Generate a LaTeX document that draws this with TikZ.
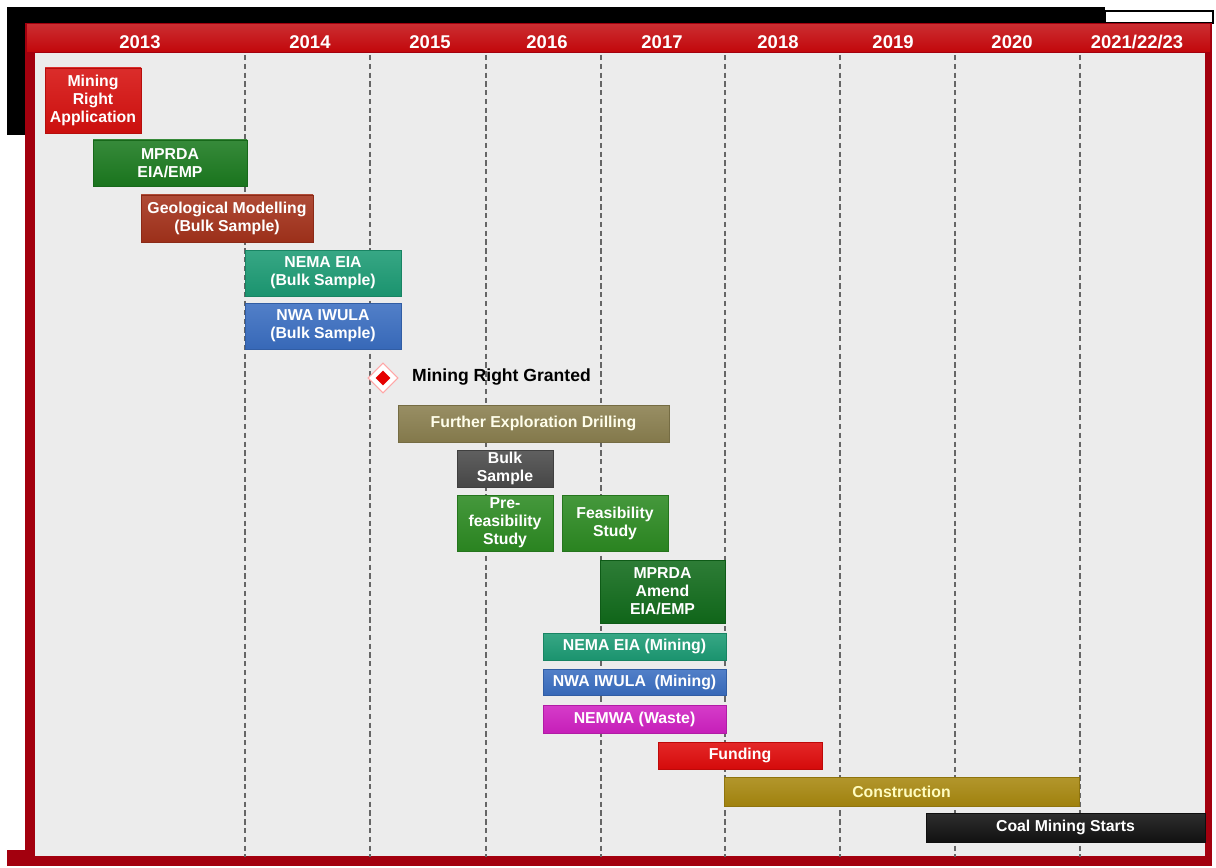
\documentclass[tikz,border=0pt]{standalone}
\usepackage{fontspec}
\setmainfont{Liberation Sans}
\usepackage{tikz}
\usetikzlibrary{shapes.geometric}

\definecolor{framered}{HTML}{A3000E}
\definecolor{headred}{HTML}{C2070B}
\definecolor{panel}{HTML}{ECECEC}
\definecolor{appred}{HTML}{D6100E}
\definecolor{mprgreen}{HTML}{1B7A1F}
\definecolor{studygreen}{HTML}{2C8A22}
\definecolor{amendgreen}{HTML}{116B1B}
\definecolor{brick}{HTML}{A4321B}
\definecolor{nemateal}{HTML}{1C9B74}
\definecolor{nwablue}{HTML}{3A6EC1}
\definecolor{drillolive}{HTML}{8A7F4F}
\definecolor{samplegrey}{HTML}{4A4A4A}
\definecolor{wastepink}{HTML}{D021C2}
\definecolor{fundred}{HTML}{E00B0B}
\definecolor{buildgold}{HTML}{A8880F}
\definecolor{coalblack}{HTML}{121212}

\tikzset{
  bar/.style={draw=#1!85!black, line width=0.4pt,
    top color=#1!88!white, bottom color=#1!95!black,
    text=white, font=\fontsize{9}{10.2}\selectfont\bfseries,
    align=center, inner sep=0pt},
  wh/.style 2 args={minimum width=#1*0.02cm, minimum height=#2*0.02cm},
  yearlbl/.style={text=white, font=\fontsize{10.5}{12}\selectfont\bfseries},
  gridline/.style={draw=black!60, line width=0.6pt, dash pattern=on 3pt off 2pt},
}

\begin{document}
\begin{tikzpicture}[x=0.02cm,y=-0.02cm]
    \useasboundingbox (0,0) rectangle (1216,868);
    % Screen surround
    \fill[white] (0,0) rectangle (1216,868);
    \fill[black] (7,7) rectangle (1105,23);
    \fill[black] (7,7) rectangle (25,135);
    \draw[black, line width=1pt, fill=white] (1105,11) rectangle (1213,23);
    \fill[framered] (7,850) rectangle (25,866);
    % Frame and header
    \fill[framered] (25,23) rectangle (1212,866);
    \shade[top color=headred!85!white, bottom color=headred] (27,25) rectangle (1210,52);
    \fill[panel] (35,53) rectangle (1205,856);
    \foreach \xc/\yr [count=\i] in {140/2013, 310/2014, 430/2015, 547/2016, 662/2017,
                                    778/2018, 893/2019, 1012/2020, 1137/{2021/22/23}}
        \node[yearlbl] (year\i) at (\xc,42) {\yr};
    % Year dividers
    \foreach \gx in {245,370,486,601,725,840,955,1080}
        \draw[gridline] (\gx,55) -- (\gx,857);
    % Phases
    \node[bar=appred, wh={96}{65}] (mra) at (93,100.5) {Mining\\Right\\Application};
    \node[bar=mprgreen, wh={154}{46}] (mprda) at (170,163) {MPRDA\\EIA/EMP};
    \node[bar=brick, wh={172}{47}] (geo) at (227,218.5) {Geological Modelling\\(Bulk Sample)};
    \node[bar=nemateal, wh={156}{46}] (nemabulk) at (323,273) {NEMA EIA\\(Bulk Sample)};
    \node[bar=nwablue, wh={156}{46}] (nwabulk) at (323,326) {NWA IWULA\\(Bulk Sample)};
    % Milestone
    \node[diamond, fill=white, draw=red!35, line width=0.6pt, inner sep=0pt,
          minimum size=0.6cm] (granted) at (383,378) {};
    \node[diamond, fill=red!90!black, inner sep=0pt, minimum size=0.3cm]
          (grantedcore) at (granted) {};
    \node[anchor=west, font=\fontsize{10}{12}\selectfont\bfseries] (grantedlbl)
          at (406,377) {Mining Right Granted};
    % Exploration and studies
    \node[bar=drillolive, wh={271}{37}, text=yellow!8] (drill) at (533.5,423.5) {Further Exploration Drilling};
    \node[bar=samplegrey, wh={96}{37}] (bulk) at (505,468.5) {Bulk\\Sample};
    \node[bar=studygreen, wh={96}{56}] (prefeas) at (505,523) {Pre-\\feasibility\\Study};
    \node[bar=studygreen, wh={106}{56}] (feas) at (615,523) {Feasibility\\Study};
    \node[bar=amendgreen, wh={125}{63}] (amend) at (662.5,591.5) {MPRDA\\Amend\\EIA/EMP};
    % Mining permits
    \node[bar=nemateal, wh={183}{27}] (nemamine) at (634.5,646.5) {NEMA EIA (Mining)};
    \node[bar=nwablue, wh={183}{26}] (nwamine) at (634.5,682) {NWA IWULA\ \ (Mining)};
    \node[bar=wastepink, wh={183}{28}] (nemwa) at (634.5,719) {NEMWA (Waste)};
    % Build
    \node[bar=fundred, wh={164}{27}] (funding) at (740,755.5) {Funding};
    \node[bar=buildgold, wh={355}{29}, text=yellow!25] (build) at (901.5,791.5) {Construction};
    \node[bar=coalblack, wh={279}{29}] (coal) at (1065.5,827.5) {Coal Mining Starts};
\end{tikzpicture}
\end{document}
